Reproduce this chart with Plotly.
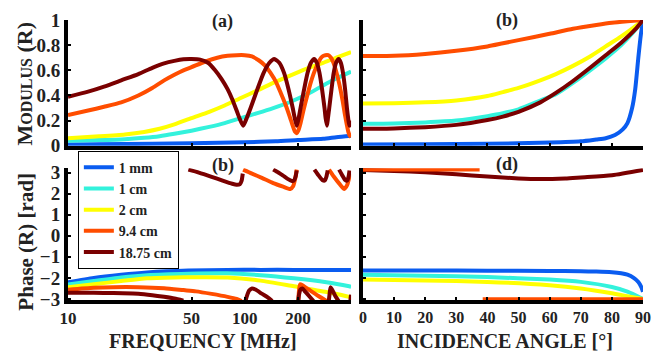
import plotly.graph_objects as go

# ---- data ----
labels = ["1 mm", "1 cm", "2 cm", "9.4 cm", "18.75 cm"]
colors = ["#0a5cf0", "#33f2dc", "#ffff00", "#ff4d00", "#7a0000"]

# (a) modulus vs frequency [MHz]
mod_f_1mm = [10, 30, 50, 100, 150, 200, 278, 330, 400]
mod_1mm = [0.01, 0.015, 0.02, 0.028, 0.035, 0.045, 0.055, 0.068, 0.08]
mod_f_1cm = [10, 15, 21, 27, 33, 40, 50, 63, 77, 95, 118, 145, 182, 230, 278, 330, 400]
mod_1cm = [0.04, 0.045, 0.052, 0.063, 0.076, 0.095, 0.12, 0.15, 0.18, 0.22, 0.26, 0.3,
           0.35, 0.415, 0.48, 0.535, 0.59]
mod_f_2cm = [10, 15, 21, 27, 33, 40, 50, 63, 77, 95, 118, 145, 182, 230, 278, 330, 400]
mod_2cm = [0.06, 0.075, 0.09, 0.11, 0.135, 0.17, 0.22, 0.27, 0.32, 0.38, 0.44, 0.5,
           0.56, 0.62, 0.66, 0.7, 0.745]
mod_f_94 = [10, 13, 16, 20, 25, 30, 35, 40, 45, 50, 60, 70, 80, 90, 100, 110, 120, 130,
            140, 150, 160, 170, 180, 188, 193, 197, 201, 207, 215, 225, 235, 245, 255,
            265, 275, 286, 297, 308, 318, 328, 338, 348, 358, 368, 378, 386, 393, 400]
mod_94 = [0.245, 0.28, 0.31, 0.345, 0.4, 0.46, 0.52, 0.565, 0.6, 0.625, 0.67, 0.7, 0.715,
          0.72, 0.72, 0.71, 0.68, 0.64, 0.58, 0.51, 0.42, 0.33, 0.23, 0.15, 0.11, 0.1,
          0.12, 0.18, 0.28, 0.39, 0.49, 0.57, 0.63, 0.68, 0.71, 0.72, 0.72, 0.7, 0.66,
          0.6, 0.53, 0.45, 0.36, 0.26, 0.17, 0.11, 0.08, 0.07]
mod_f_1875 = [10, 13, 16, 20, 25, 30, 35, 40, 45, 50, 56, 62, 68, 74, 80, 85, 90, 94, 98,
              102, 108, 118, 128, 138, 147, 157, 167, 177, 187, 192, 197, 202, 207, 217,
              227, 237, 247, 256, 265, 274, 283, 287, 292, 296, 301, 310, 319, 329, 340,
              350, 360, 370, 379, 385, 391, 396, 400]
mod_1875 = [0.39, 0.43, 0.47, 0.52, 0.57, 0.62, 0.655, 0.675, 0.688, 0.69, 0.685, 0.66,
            0.6, 0.53, 0.45, 0.37, 0.28, 0.21, 0.16, 0.21, 0.3, 0.45, 0.58, 0.66, 0.69,
            0.66, 0.58, 0.45, 0.3, 0.22, 0.16, 0.22, 0.3, 0.45, 0.58, 0.66, 0.69, 0.66,
            0.58, 0.45, 0.3, 0.22, 0.16, 0.22, 0.3, 0.45, 0.58, 0.66, 0.69, 0.66, 0.58,
            0.45, 0.3, 0.22, 0.16, 0.17, 0.2]

# (b) modulus vs incidence angle [deg]
mod_a_1mm = [0, 20, 40, 60, 70, 75, 78, 81, 83.5, 85, 86.5, 87.5, 88.5, 89.3, 90]
mod_b_1mm = [0.01, 0.012, 0.015, 0.025, 0.035, 0.05, 0.06, 0.085, 0.13, 0.18, 0.3, 0.45,
             0.7, 0.88, 1.0]
mod_a = [0, 10, 20, 30, 40, 45, 50, 57, 62, 67.5, 73, 78, 83, 87.5, 90]
mod_b_1cm = [0.174, 0.176, 0.185, 0.2, 0.235, 0.258, 0.29, 0.36, 0.41, 0.5, 0.6, 0.695,
             0.8, 0.92, 1.0]
mod_b_2cm = [0.336, 0.338, 0.345, 0.36, 0.395, 0.427, 0.46, 0.52, 0.57, 0.635, 0.71, 0.79,
             0.87, 0.95, 1.0]
mod_b_1875 = [0.135, 0.138, 0.148, 0.166, 0.205, 0.232, 0.27, 0.345, 0.42, 0.515, 0.62,
              0.72, 0.82, 0.925, 1.0]
mod_a_94 = [0, 10, 20, 30, 40, 45, 50, 60, 67.5, 75, 80, 85, 90]
mod_b_94 = [0.713, 0.715, 0.73, 0.755, 0.79, 0.815, 0.84, 0.89, 0.93, 0.96, 0.978, 0.99, 1.0]

# (c) phase vs frequency [MHz]; None marks a 2*pi wrap
ph_f_1mm = [10, 14, 20, 28, 48, 80, 123, 190, 290, 400]
ph_1mm = [-2.21, -2.0, -1.85, -1.74, -1.65, -1.62, -1.62, -1.62, -1.63, -1.63]
ph_f_1cm = [10, 14, 20, 28, 48, 80, 123, 190, 290, 390, 400]
ph_1cm = [-2.32, -2.15, -1.98, -1.87, -1.8, -1.78, -1.87, -2.02, -2.21, -2.4, -2.42]
ph_f_2cm = [10, 14, 20, 28, 40, 50, 80, 123, 190, 290, 390, 400]
ph_2cm = [-2.44, -2.3, -2.15, -2.02, -1.98, -1.97, -1.98, -2.13, -2.4, -2.67, -2.9, -2.93]
ph_f_94 = [10, 14, 18, 25, 35, 45, 53, 65, 80, 90, 96, None,
           98, 110, 125, 145, 165, 181, 188, 193, 197, None,
           201, 203, 206, 212, 230, 260, 290, None,
           300, 320, 345, 366, 380, 392, 400]
ph_94 = [-2.56, -2.47, -2.44, -2.44, -2.49, -2.58, -2.64, -2.76, -2.9, -3.0, -3.1, None,
         3.14, 2.95, 2.75, 2.5, 2.33, 2.22, 2.35, 2.7, 3.14, None,
         -3.1, -2.6, -2.3, -2.35, -2.55, -2.85, -3.1, None,
         3.14, 2.8, 2.45, 2.22, 2.4, 2.8, 2.95]
ph_f_1875 = [10, 14, 18, 25, 30, 35, 40, 45, None,
             48, 55, 65, 75, 85, 90, 94, 96, 97.5, None,
             101, 103, 106, 110, 115, 125, 135, 143, None,
             145, 155, 165, 175, 185, 190, 194, 197, None,
             201, 203, 207, 212, 220, 232, 245, None,
             248, 260, 275, 284, 290, 295, None,
             299, 302, 306, 312, 325, 340, None,
             342, 355, 370, 380, 387, 392, None,
             396, 400]
ph_1875 = [-2.7, -2.71, -2.72, -2.75, -2.82, -2.9, -2.98, -3.08, None,
           3.14, 3.0, 2.8, 2.62, 2.47, 2.42, 2.45, 2.6, 2.95, None,
           -3.1, -2.85, -2.6, -2.5, -2.55, -2.75, -2.92, -3.1, None,
           3.14, 3.0, 2.85, 2.7, 2.6, 2.62, 2.8, 3.1, None,
           -3.1, -2.8, -2.55, -2.5, -2.65, -2.87, -3.1, None,
           3.14, 2.9, 2.65, 2.62, 2.8, 3.1, None,
           -3.1, -2.8, -2.45, -2.55, -2.85, -3.1, None,
           3.14, 2.9, 2.65, 2.62, 2.8, 3.1, None,
           -3.1, -2.8]

# (d) phase vs incidence angle [deg]
ph_a = [0, 10, 20, 30, 40, 50, 57, 65, 70, 80, 90]
ph_d_1875 = [3.12, 3.08, 3.01, 2.92, 2.81, 2.72, 2.69, 2.72, 2.77, 2.87, 3.12]
ph_a_94 = [0, 10, 20, 30, 37.5, None, 38.5, 50, 60, 70, 80, 90]
ph_d_94 = [3.15, 3.15, 3.15, 3.15, 3.15, None, -3.02, -3.02, -3.02, -3.02, -3.02, -3.02]
ph_a_1mm = [0, 20, 40, 60, 70, 75, 80, 83, 85, 87, 88.5, 89.5, 90]
ph_d_1mm = [-1.65, -1.65, -1.66, -1.67, -1.69, -1.7, -1.73, -1.78, -1.85, -2.0, -2.2,
            -2.45, -2.66]
ph_a_c = [0, 20, 40, 60, 70, 80, 85, 90]
ph_d_1cm = [-1.85, -1.9, -1.96, -2.08, -2.19, -2.43, -2.65, -3.0]
ph_d_2cm = [-2.08, -2.12, -2.19, -2.35, -2.5, -2.73, -2.87, -3.0]

panel_a = [(mod_f_1mm, mod_1mm), (mod_f_1cm, mod_1cm), (mod_f_2cm, mod_2cm),
           (mod_f_94, mod_94), (mod_f_1875, mod_1875)]
panel_b = [(mod_a_1mm, mod_b_1mm), (mod_a, mod_b_1cm), (mod_a, mod_b_2cm),
           (mod_a_94, mod_b_94), (mod_a, mod_b_1875)]
panel_c = [(ph_f_1mm, ph_1mm), (ph_f_1cm, ph_1cm), (ph_f_2cm, ph_2cm),
           (ph_f_94, ph_94), (ph_f_1875, ph_1875)]
panel_d = [(ph_a_1mm, ph_d_1mm), (ph_a_c, ph_d_1cm), (ph_a_c, ph_d_2cm),
           (ph_a_94, ph_d_94), (ph_a, ph_d_1875)]

FONT = "Liberation Serif"
W, H = 661, 356
L, R, T, B = 68, 10, 15, 56
PW, PH = W - L - R, H - T - B


def px(x):
    return (x - L) / PW


def py(y):
    return (H - B - y) / PH


fig = go.Figure()
panels = [(panel_a, "x", "y", [0, 1, 2, 3, 4]), (panel_b, "x2", "y2", [0, 1, 2, 3, 4]),
          (panel_c, "x3", "y3", [0, 1, 2, 3, 4]), (panel_d, "x4", "y4", [0, 1, 2, 4, 3])]
for k, (panel, xa, ya, order) in enumerate(panels):
    for i in order:
        xs, ys = panel[i]
        fig.add_trace(go.Scatter(
            x=xs, y=ys, xaxis=xa, yaxis=ya, mode="lines",
            line=dict(color=colors[i], width=4, shape="spline", smoothing=0.6),
            name=labels[i], showlegend=(k == 2), connectgaps=False,
        ))

dom_left = [0, px(355)]
dom_right = [px(367), 1]
dom_top = [py(143), 1]
dom_bot = [0, py(166)]

axis_common = dict(showline=True, linecolor="black", linewidth=4, showgrid=False,
                   zeroline=False, ticks="inside", ticklen=3, tickwidth=2,
                   tickcolor="black", mirror=False)
tick_font = dict(family=FONT, size=19, color="#222", weight="bold")

fig.update_layout(
    width=W, height=H, margin=dict(l=L, r=R, t=T, b=B),
    paper_bgcolor="white", plot_bgcolor="white",
    font=dict(family=FONT, color="#222", weight="bold"),
    xaxis=dict(axis_common, type="log", range=[1, 2.602], domain=dom_left,
               anchor="y", showticklabels=False, tickvals=[10, 50, 100, 200]),
    yaxis=dict(axis_common, range=[0, 1], domain=dom_top, anchor="x",
               tickvals=[0, 0.2, 0.4, 0.6, 0.8, 1],
               ticktext=["0", "0.2", "0.4", "0.6", "0.8", "1"], tickfont=tick_font),
    xaxis2=dict(axis_common, range=[0, 90], domain=dom_right, anchor="y2",
                showticklabels=False, dtick=10),
    yaxis2=dict(axis_common, range=[0, 1], domain=dom_top, anchor="x2",
                showticklabels=False, dtick=0.2),
    xaxis3=dict(axis_common, type="log", range=[1, 2.602], domain=dom_left,
                anchor="y3", tickvals=[10, 50, 100, 200],
                ticktext=["10", "50", "100", "200"],
                tickfont=dict(family=FONT, size=17, color="#222", weight="bold")),
    yaxis3=dict(axis_common, range=[-3.05, 3.2], domain=dom_bot, anchor="x3",
                tickvals=[-3, -2, -1, 0, 1, 2, 3], tickfont=tick_font),
    xaxis4=dict(axis_common, range=[0, 90], domain=dom_right, anchor="y4",
                tickvals=list(range(0, 91, 10)),
                tickfont=dict(family=FONT, size=16, color="#222", weight="bold")),
    yaxis4=dict(axis_common, range=[-3.05, 3.2], domain=dom_bot, anchor="x4",
                showticklabels=False, dtick=1),
    legend=dict(x=px(78), y=py(148), xanchor="left", yanchor="top",
                bgcolor="white", bordercolor="black", borderwidth=1,
                font=dict(family=FONT, size=14, color="#222", weight="bold"),
                tracegroupgap=0, itemwidth=30),
)

ann = [
    ("(a)", 225, 17, 18, 0), ("(b)", 513, 15, 18, 0),
    ("(b)", 225, 163, 18, 0), ("(d)", 513, 162, 18, 0),
    ("FREQUENCY [MHz]", 205, 342, 20, 0),
    ("INCIDENCE ANGLE [°]", 511, 342, 20, 0),
    ('M<span style="font-size:16px">ODULUS</span> (R)', 24, 80, 22, -90),
    ("Phase (R) [rad]", 25, 241, 21, -90),
]
for text, x, y, size, ang in ann:
    fig.add_annotation(text=text, x=px(x), y=py(y), xref="paper", yref="paper",
                       showarrow=False, textangle=ang, xanchor="center",
                       yanchor="middle",
                       font=dict(family=FONT, size=size, color="#222", weight="bold"))

# the page's default body margin would shift the plot by 8px
fig.write_html("out.html", config={"displayModeBar": False},
               post_script="document.body.style.margin='0px';")
